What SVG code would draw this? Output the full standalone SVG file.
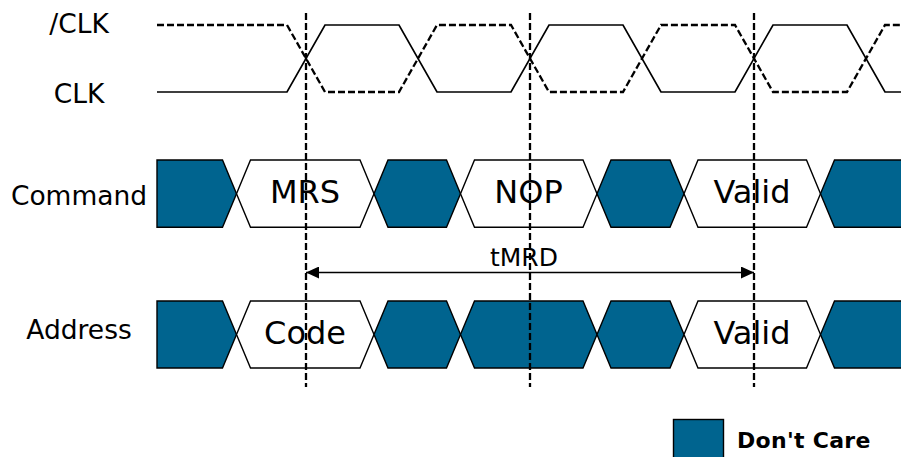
<svg xmlns="http://www.w3.org/2000/svg" width="901" height="457" viewBox="0 0 901 457">
<style>
.lbl{font-family:"DejaVu Sans","Verdana",sans-serif;font-size:26.5px;fill:#000;text-anchor:middle}
.val{font-family:"DejaVu Sans","Verdana",sans-serif;font-size:32px;fill:#000;text-anchor:middle}
.tm{font-family:"DejaVu Sans","Verdana",sans-serif;font-size:25px;fill:#000;text-anchor:middle}
.leg{font-family:"DejaVu Sans","Verdana",sans-serif;font-size:22px;font-weight:bold;fill:#000;letter-spacing:0.3px}
.dc{fill:#00648f;stroke:#000;stroke-width:1.4;stroke-linejoin:miter}
.wh{fill:#fff;stroke:#000;stroke-width:1.4;stroke-linejoin:miter}
.clk{fill:none;stroke:#000;stroke-width:1.7}
.nclk{fill:none;stroke:#000;stroke-width:2.3;stroke-dasharray:7 3}
.vl{fill:none;stroke:#000;stroke-width:2.3;stroke-dasharray:7 3}
.arr{fill:none;stroke:#000;stroke-width:1.4}
</style>
<defs>
<marker id="ah" viewBox="0 0 13 12" refX="13" refY="6" markerWidth="13" markerHeight="12" markerUnits="userSpaceOnUse" orient="auto-start-reverse">
<path d="M0,0 L13,6 L0,12 Z" fill="#000"/>
</marker>
</defs>
<g id="labels">
<text class="lbl" x="79" y="33">/CLK</text>
<text class="lbl" x="79" y="103">CLK</text>
<text class="lbl" x="79" y="205">Command</text>
<text class="lbl" x="79" y="339">Address</text>
</g>
<g id="clk_n">
<path class="nclk" d="M157,25 H287 L325,92 H399 L437,25 H511 L549,92 H623 L661,25 H735 L773,92 H847 L885,25 H901"/>
</g>
<g id="clk">
<path class="clk" d="M157,92 H287 L325,25 H399 L437,92 H511 L549,25 H623 L661,92 H735 L773,25 H847 L885,92 H901"/>
</g>
<g id="command">
<path class="dc" d="M157,160 H222.5 L236.5,193.7 L222.5,227.3 H157 Z"/>
<path class="wh" d="M236.5,193.7 L250.5,160 H360 L374,193.7 L360,227.3 H250.5 Z"/>
<path class="dc" d="M374,193.7 L388,160 H446.5 L460.5,193.7 L446.5,227.3 H388 Z"/>
<path class="wh" d="M460.5,193.7 L474.5,160 H583 L597,193.7 L583,227.3 H474.5 Z"/>
<path class="dc" d="M597,193.7 L611,160 H670 L684,193.7 L670,227.3 H611 Z"/>
<path class="wh" d="M684,193.7 L698,160 H806.5 L820.5,193.7 L806.5,227.3 H698 Z"/>
<path class="dc" d="M902,160 H834.5 L820.5,193.7 L834.5,227.3 H902"/>
<text class="val" x="305" y="203">MRS</text>
<text class="val" x="528.5" y="203">NOP</text>
<text class="val" x="752" y="203">Valid</text>
</g>
<g id="address">
<path class="dc" d="M157,301 H222.5 L236.5,334.5 L222.5,368 H157 Z"/>
<path class="wh" d="M236.5,334.5 L250.5,301 H360 L374,334.5 L360,368 H250.5 Z"/>
<path class="dc" d="M374,334.5 L388,301 H446.5 L460.5,334.5 L446.5,368 H388 Z"/>
<path class="dc" d="M460.5,334.5 L474.5,301 H583 L597,334.5 L583,368 H474.5 Z"/>
<path class="dc" d="M597,334.5 L611,301 H670 L684,334.5 L670,368 H611 Z"/>
<path class="wh" d="M684,334.5 L698,301 H806.5 L820.5,334.5 L806.5,368 H698 Z"/>
<path class="dc" d="M902,301 H834.5 L820.5,334.5 L834.5,368 H902"/>
<text class="val" x="305" y="344">Code</text>
<text class="val" x="752" y="344">Valid</text>
</g>
<g id="connectors">
<line class="vl" x1="306" y1="13" x2="306" y2="387"/>
<line class="vl" x1="530" y1="13" x2="530" y2="387"/>
<line class="vl" x1="754" y1="13" x2="754" y2="387"/>
<line class="arr" x1="306" y1="272.5" x2="754" y2="272.5" marker-start="url(#ah)" marker-end="url(#ah)"/>
<text class="tm" x="524" y="266">tMRD</text>
</g>
<g id="legend">
<rect class="dc" x="673.5" y="419.5" width="50" height="40"/>
<text class="leg" x="737" y="448">Don't Care</text>
</g>
</svg>
